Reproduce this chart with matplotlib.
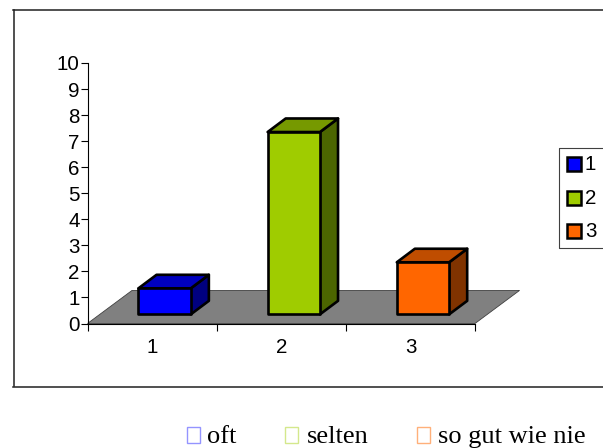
import matplotlib
matplotlib.use("Agg")
import matplotlib.pyplot as plt
from matplotlib.lines import Line2D
from matplotlib.patches import Polygon, Rectangle

W, H = 603, 448

categories = [1, 2, 3]
values = [1, 7, 2]
front_colors = ["#0000FF", "#9FCC00", "#FF6600"]
top_colors = ["#0000BF", "#769900", "#BF4D00"]
side_colors = ["#000080", "#4C6600", "#803300"]
y_ticks = list(range(0, 11))
x_edges = [0.5, 1.5, 2.5, 3.5]
outer_labels = ["oft", "selten", "so gut wie nie"]
outer_colors = ["#9494FF", "#D4E88C", "#FFB07A"]

# 3d look of the old office chart, in data units
bar_w = 0.405
shift_x = 0.097
lift_y = 0.35
depth_x = 0.14
depth_y = 0.52
floor_x = 0.345
floor_y = 1.27
edge_lw = 1.9
tick_fs = 14.8


def fx(px):
    return px / W


def fy(py):
    return 1 - py / H


plt.rcParams["font.family"] = ["Liberation Sans", "DejaVu Sans"]

fig = plt.figure(figsize=(W / 100, H / 100), dpi=100)
ax = fig.add_axes([fx(87.5), fy(323.5), (475 - 87.5) / W, (323.5 - 63) / H])
ax.set_xlim(0.5, 3.5)
ax.set_ylim(0, 10)
ax.patch.set_alpha(0)
ax.spines["top"].set_visible(False)
ax.spines["right"].set_visible(False)
ax.spines["left"].set_linewidth(0.8)
ax.spines["bottom"].set_linewidth(0.8)
ax.set_yticks(y_ticks)
ax.set_xticks(x_edges)
ax.set_xticklabels([])
ax.tick_params(axis="both", length=5, width=0.8, labelsize=tick_fs, pad=0.5)
ax.tick_params(axis="x", direction="out")

# floor
ax.add_patch(Polygon([(0.5, 0), (3.5, 0), (3.5 + floor_x, floor_y), (0.5 + floor_x, floor_y)],
                     closed=True, fc="#808080", ec="#404040", lw=0.6, clip_on=False, zorder=1))

for cat, val, fc, tc, sc in zip(categories, values, front_colors, top_colors, side_colors):
    x0 = cat - bar_w / 2 + shift_x
    x1 = x0 + bar_w
    y0 = lift_y
    y1 = y0 + val
    ax.add_patch(Polygon([(x1, y0), (x1 + depth_x, y0 + depth_y), (x1 + depth_x, y1 + depth_y), (x1, y1)],
                         closed=True, fc=sc, ec="black", lw=edge_lw, joinstyle="round", clip_on=False, zorder=3))
    ax.add_patch(Polygon([(x0, y1), (x1, y1), (x1 + depth_x, y1 + depth_y), (x0 + depth_x, y1 + depth_y)],
                         closed=True, fc=tc, ec="black", lw=edge_lw, joinstyle="round", clip_on=False, zorder=3))
    ax.add_patch(Rectangle((x0, y0), bar_w, val, fc=fc, ec="black", lw=edge_lw,
                           joinstyle="round", clip_on=False, zorder=4))
    ax.annotate(str(cat), (cat, 0), xytext=(0, -24), textcoords="offset pixels",
                ha="center", va="center", fontsize=tick_fs, color="black")

# outer chart frame, runs off the right side of the picture
frame = dict(color="#202020", lw=1.1, transform=fig.transFigure)
fig.add_artist(Line2D([fx(13), fx(603)], [fy(10.5), fy(10.5)], **frame))
fig.add_artist(Line2D([fx(13.5), fx(13.5)], [fy(10), fy(386)], **frame))
fig.add_artist(Line2D([fx(13), fx(603)], [fy(386.5), fy(386.5)], **frame))

# chart legend, also cut at the right edge
fig.add_artist(Line2D([fx(603), fx(559), fx(559), fx(603)],
                      [fy(148), fy(148), fy(248), fy(248)],
                      color="#404040", lw=0.8, transform=fig.transFigure))
for cat, fc, py in zip(categories, front_colors, [164.5, 198, 231.5]):
    fig.add_artist(Rectangle((fx(566.5), fy(py + 7)), 14 / W, 14 / H, fc=fc, ec="black", lw=1.8,
                             transform=fig.transFigure))
    fig.text(fx(585), fy(py), str(cat), fontsize=tick_fs, va="center", ha="left")

# text legend under the chart
for label, col, box_x, text_x in zip(outer_labels, outer_colors, [186.5, 284.8, 416.5], [207, 307, 438]):
    fig.add_artist(Rectangle((fx(box_x), fy(442.5)), 13.5 / W, 16 / H, fc="white", ec=col, lw=1.0,
                             transform=fig.transFigure))
    fig.text(fx(text_x), fy(443), label, fontsize=19, va="baseline", ha="left",
             family=["Liberation Serif", "DejaVu Serif"], color="black")

fig.savefig("out.png", dpi=100)
